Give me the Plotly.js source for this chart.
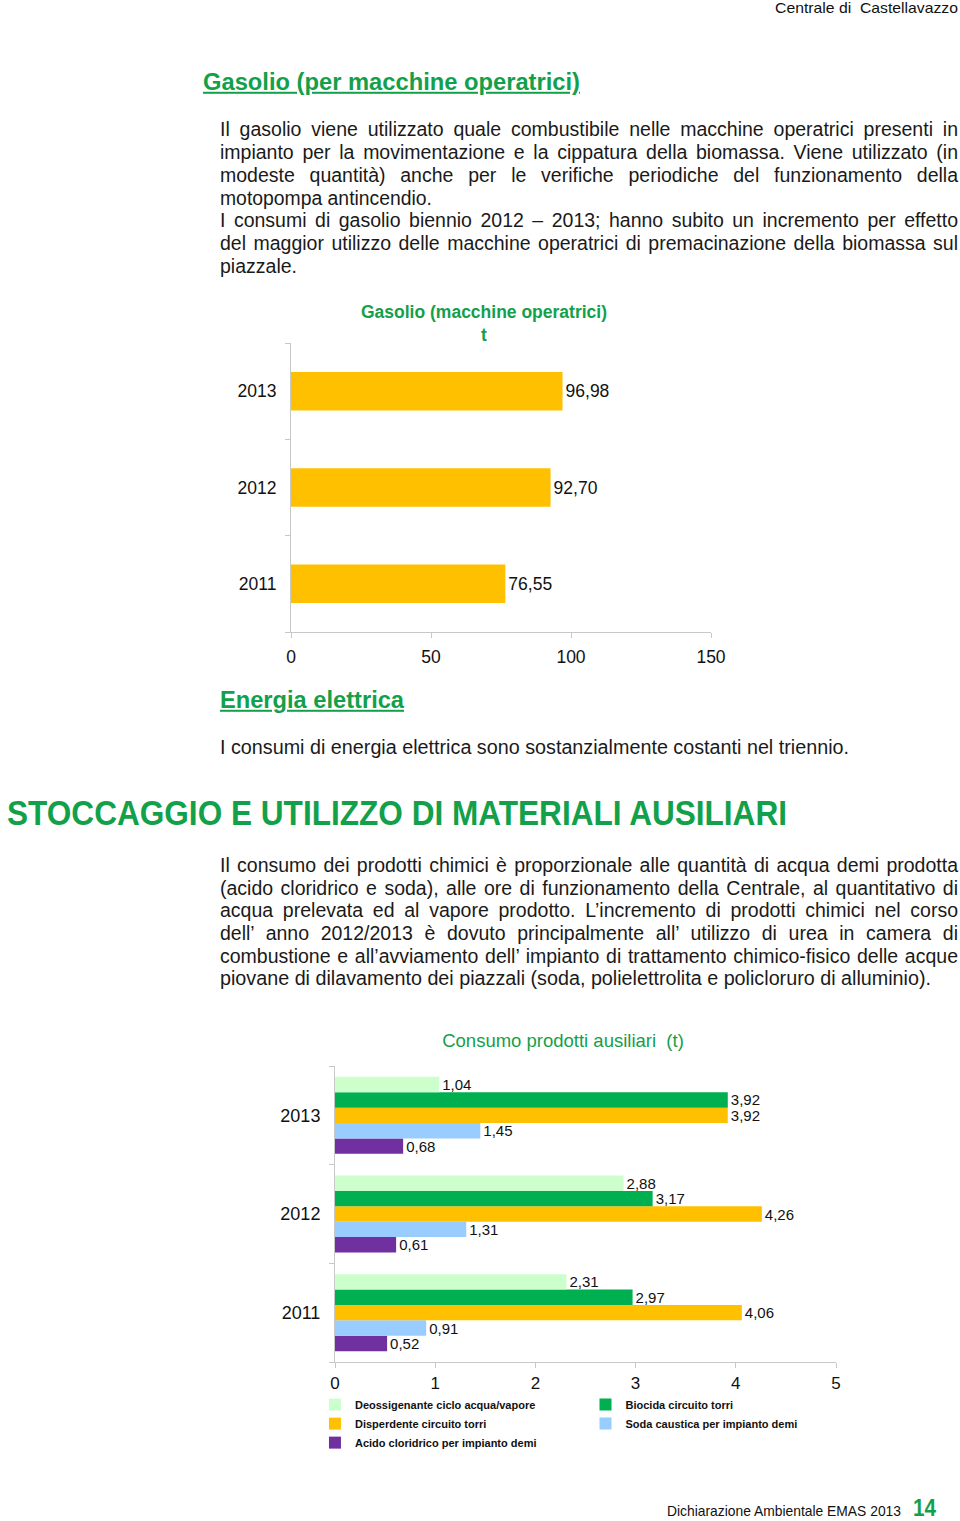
<!DOCTYPE html>
<html>
<head>
<meta charset="utf-8">
<script src="https://cdn.plot.ly/plotly-3.0.1.min.js"></script>
<style>
  html, body { margin:0; padding:0; background:#fff; }
  body { width:960px; height:1521px; position:relative; overflow:hidden;
         font-family:"Liberation Sans", Arial, sans-serif; color:#1a1a1a; }
  .t { position:absolute; white-space:nowrap; line-height:1.15; transform:translateY(-50%); }
  #c1 { position:absolute; left:0; top:280px; width:960px; height:400px; }
  #c2 { position:absolute; left:0; top:1010px; width:960px; height:470px; }
</style>
</head>
<body>
<div id="c1"></div>
<div id="c2"></div>
<script>
// ---------- data ----------
const gasYears = ['2011', '2012', '2013'];
const gasValues = [76.55, 92.70, 96.98];
const gasTicks = [0, 50, 100, 150];

const auxYears = ['2011', '2012', '2013'];
const deossigenante = [2.31, 2.88, 1.04];
const biocida = [2.97, 3.17, 3.92];
const disperdente = [4.06, 4.26, 3.92];
const soda = [0.91, 1.31, 1.45];
const acido = [0.52, 0.61, 0.68];
const auxNames = ['Deossigenante ciclo acqua/vapore', 'Biocida circuito torri',
  'Disperdente circuito torri', 'Soda caustica per impianto demi', 'Acido cloridrico per impianto demi'];

// ---------- page text ----------
const para1 = [
  'Il gasolio viene utilizzato quale combustibile nelle macchine operatrici presenti in',
  'impianto per la movimentazione e la cippatura della biomassa. Viene utilizzato (in',
  'modeste quantità) anche  per le verifiche periodiche del funzionamento della',
  'motopompa antincendio.',
  'I consumi di gasolio biennio 2012 – 2013; hanno subito un incremento per effetto',
  'del maggior utilizzo delle macchine operatrici di premacinazione della biomassa sul',
  'piazzale.'
];
const para1Y = [129, 152, 175, 198, 220, 243, 266];
const para1Last = [false, false, false, true, false, false, true];
const para2 = [
  'Il consumo dei prodotti chimici è proporzionale alle quantità di acqua demi prodotta',
  '(acido cloridrico e soda), alle ore di funzionamento della Centrale, al quantitativo di',
  'acqua prelevata ed al vapore prodotto. L’incremento di prodotti chimici nel corso',
  'dell’ anno 2012/2013 è dovuto principalmente all’ utilizzo di urea in camera di',
  'combustione e all’avviamento dell’ impianto di trattamento chimico-fisico delle acque',
  'piovane di dilavamento dei piazzali (soda, polielettrolita e policloruro di alluminio).'
];
const para2Y = [865, 888, 910, 933, 956, 978];
const para2Last = [false, false, false, false, false, true];

function addText(txt, x, cy, style, fitW) {
  const d = document.createElement('div');
  d.className = 't';
  d.textContent = txt;
  d.style.left = x + 'px';
  d.style.top = cy + 'px';
  Object.assign(d.style, style || {});
  document.body.appendChild(d);
  if (fitW) {
    const w = d.getBoundingClientRect().width;
    d.style.transformOrigin = 'left center';
    d.style.transform = 'translateY(-50%) scaleX(' + (fitW / w) + ')';
  }
  return d;
}
function addJust(lines, ys, lastFlags, size, lastW) {
  const W = 738;
  lines.forEach((l, i) => {
    const d = addText(l.replace(/  +/g, ' '), 220, ys[i], {fontSize: size + 'px'});
    const w = d.getBoundingClientRect().width;
    if (!lastFlags[i]) {
      const n = (l.replace(/  +/g, ' ').match(/ /g) || []).length;
      if (w < W) d.style.wordSpacing = ((W - w) / n) + 'px';
      else { d.style.transformOrigin = 'left center'; d.style.transform = 'translateY(-50%) scaleX(' + (W / w) + ')'; }
    } else if (lastW && lastW[i]) {
      d.style.transformOrigin = 'left center';
      d.style.transform = 'translateY(-50%) scaleX(' + (lastW[i] / w) + ')';
    }
  });
}

addText('Centrale di  Castellavazzo', 775, 8, {fontSize:'14.5px', whiteSpace:'pre', color:'#111'}, 183);
addText('Gasolio (per macchine operatrici)', 203, 82,
  {fontSize:'23px', fontWeight:'bold', textDecoration:'underline', color:'#13a04a'}, 377);
addJust(para1, para1Y, para1Last, 19.5, [0, 0, 0, 212, 0, 0, 77]);
addText('Energia elettrica', 220, 700,
  {fontSize:'23px', fontWeight:'bold', textDecoration:'underline', color:'#13a04a'}, 184);
addText('I consumi di energia elettrica sono sostanzialmente costanti nel triennio.', 220, 747,
  {fontSize:'19.5px'}, 629);
addText('STOCCAGGIO E UTILIZZO DI MATERIALI AUSILIARI', 7, 813,
  {fontSize:'35px', fontWeight:'bold', color:'#13a04a'}, 780);
addJust(para2, para2Y, para2Last, 19.5, [0, 0, 0, 0, 0, 711]);
addText('Dichiarazione Ambientale EMAS 2013', 667, 1511, {fontSize:'15px', color:'#111'}, 234);
addText('14', 913, 1508, {fontSize:'23px', fontWeight:'bold', color:'#13a04a'}, 23);

// ---------- chart 1 ----------
const axisCol = '#c8c8c8';
const arial = 'Liberation Sans, Arial, sans-serif';

Plotly.newPlot('c1', [{
  type: 'bar', orientation: 'h', y: gasYears, x: gasValues,
  marker: {color: '#ffc000'},
  texttemplate: '%{x:.2f}', textposition: 'outside', constraintext: 'none',
  textfont: {family: arial, size: 17.5, color: '#111'}, cliponaxis: false,
  hoverinfo: 'skip'
}], {
  width: 960, height: 400,
  margin: {l: 291, r: 249, t: 63, b: 48},
  separators: ',.',
  paper_bgcolor: 'rgba(0,0,0,0)', plot_bgcolor: 'rgba(0,0,0,0)',
  bargap: 0.6, showlegend: false,
  title: {text: 'Gasolio (macchine operatrici)<br>t', x: 484/960, xanchor: 'center',
    y: 1 - 38/400, yanchor: 'middle', yref: 'container',
    font: {family: arial, size: 17.5, color: '#13a04a', weight: 'bold'}},
  xaxis: {range: [0, 150], tickvals: gasTicks, ticks: 'outside', ticklen: 5, tickcolor: axisCol,
    showline: true, linecolor: axisCol, showgrid: false, zeroline: false,
    tickfont: {family: arial, size: 17.5, color: '#111'}, ticklabelstandoff: 4, fixedrange: true},
  yaxis: {type: 'category', categoryarray: gasYears, tickson: 'boundaries', ticks: 'outside', ticklen: 5,
    tickcolor: axisCol, showline: true, linecolor: axisCol, showgrid: false, zeroline: false,
    tickfont: {family: arial, size: 17.5, color: '#111'}, ticklabelstandoff: 10, fixedrange: true}
}, {staticPlot: true});

// ---------- chart 2 ----------
const series = [
  {y: acido, name: auxNames[4], color: '#7030a0', legend: 'legend'},
  {y: soda, name: auxNames[3], color: '#99ccff', legend: 'legend2'},
  {y: disperdente, name: auxNames[2], color: '#ffc000', legend: 'legend'},
  {y: biocida, name: auxNames[1], color: '#00b050', legend: 'legend2'},
  {y: deossigenante, name: auxNames[0], color: '#ccffcc', legend: 'legend'}
];
const traces2 = series.map(s => ({
  type: 'bar', orientation: 'h', y: auxYears, x: s.y, name: s.name,
  marker: {color: s.color}, legend: s.legend,
  texttemplate: '%{x:.2f}', textposition: 'outside', constraintext: 'none', cliponaxis: false,
  textfont: {family: arial, size: 15, color: '#111'}, hoverinfo: 'skip'
}));
const legFont = {family: arial, size: 11, color: '#111', weight: 'bold'};
Plotly.newPlot('c2', traces2, {
  width: 960, height: 470,
  margin: {l: 335, r: 124, t: 56, b: 118},
  separators: ',.',
  paper_bgcolor: 'rgba(0,0,0,0)', plot_bgcolor: 'rgba(0,0,0,0)',
  barmode: 'group', bargap: 0.22, bargroupgap: 0,
  title: {text: 'Consumo prodotti ausiliari  (t)', x: 563/960, xanchor: 'center',
    y: 1 - 31/470, yanchor: 'middle', yref: 'container',
    font: {family: arial, size: 18.5, color: '#13a04a'}},
  xaxis: {range: [0, 5], dtick: 1, ticks: 'outside', ticklen: 5, tickcolor: axisCol,
    showline: true, linecolor: axisCol, showgrid: false, zeroline: false,
    tickfont: {family: arial, size: 17, color: '#111'}, ticklabelstandoff: 1, fixedrange: true},
  yaxis: {type: 'category', categoryarray: auxYears, tickson: 'boundaries', ticks: 'outside', ticklen: 5,
    tickcolor: axisCol, showline: true, linecolor: axisCol, showgrid: false, zeroline: false,
    tickfont: {family: arial, size: 18, color: '#111'}, ticklabelstandoff: 10, fixedrange: true},
  showlegend: true,
  legend: {x: -0.04, xanchor: 'left', y: -0.095, yanchor: 'top', orientation: 'v',
    traceorder: 'reversed', font: legFont, bgcolor: 'rgba(0,0,0,0)', itemwidth: 30},
  legend2: {x: 0.5, xanchor: 'left', y: -0.095, yanchor: 'top', orientation: 'v',
    traceorder: 'reversed', font: legFont, bgcolor: 'rgba(0,0,0,0)', itemwidth: 30}
}, {staticPlot: true});
</script>
</body>
</html>
